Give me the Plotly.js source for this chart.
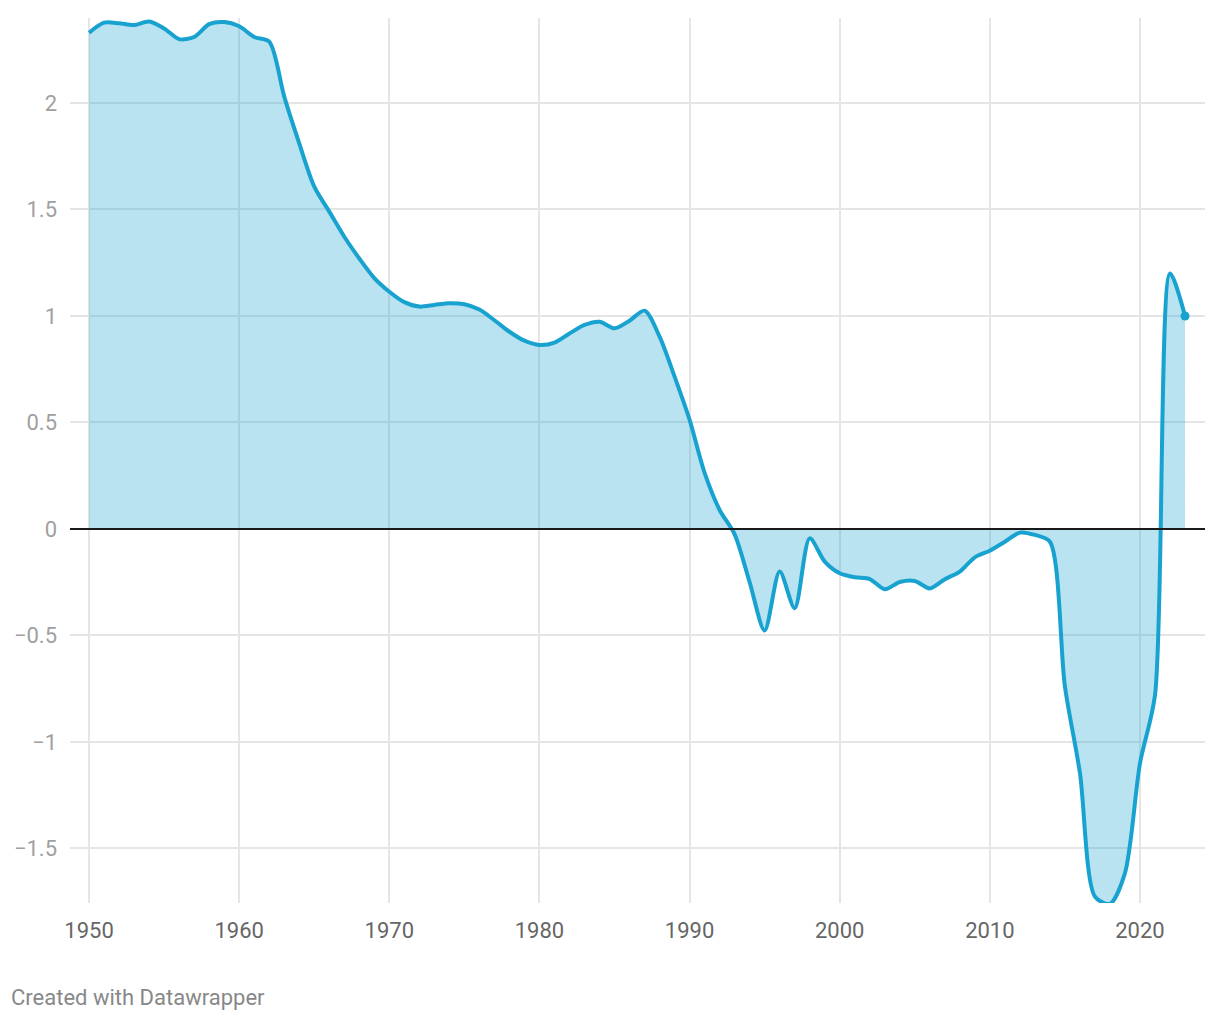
<!DOCTYPE html>
<html>
<head>
<meta charset="utf-8">
<script src="https://cdn.plot.ly/plotly-3.0.1.min.js"></script>
<style>
html,body{margin:0;padding:0;background:#fff;}
#chart{width:1220px;height:1020px;}
</style>
</head>
<body>
<div id="chart"></div>
<script>
const years = [1950,1951,1952,1953,1954,1955,1956,1957,1958,1959,
  1960,1961,1962,1963,1964,1965,1966,1967,1968,1969,
  1970,1971,1972,1973,1974,1975,1976,1977,1978,1979,
  1980,1981,1982,1983,1984,1985,1986,1987,1988,1989,
  1990,1991,1992,1993,1994,1995,1996,1997,1998,1999,
  2000,2001,2002,2003,2004,2005,2006,2007,2008,2009,
  2010,2011,2012,2013,2014,2015,2016,2017,2018,2019,
  2020,2021,2022,2023];
const values = [2.33,2.377,2.374,2.366,2.383,2.35,2.30,2.31,2.37,2.38,
  2.36,2.31,2.288,2.03,1.81,1.607,1.49,1.372,1.27,1.178,
  1.114,1.065,1.044,1.052,1.06,1.055,1.03,0.98,0.926,0.884,
  0.864,0.875,0.918,0.958,0.973,0.942,0.978,1.025,0.903,0.715,
  0.512,0.263,0.089,-0.025,-0.25,-0.477,-0.2,-0.372,-0.044,-0.153,
  -0.208,-0.227,-0.235,-0.283,-0.249,-0.244,-0.279,-0.236,-0.2,-0.133,
  -0.102,-0.06,-0.017,-0.028,-0.06,-0.74,-1.146,-1.726,-1.76,-1.615,
  -1.1,-0.78,1.2,1.0];
const xTicks = [1950,1960,1970,1980,1990,2000,2010,2020];
const yTicks = [-1.5,-1,-0.5,0,0.5,1,1.5,2];
const yTickLabels = ['\u22121.5','\u22121','\u22120.5','0','0.5','1','1.5','2'];

const lineColor = '#18a2cf';
const traces = [
  {
    x: years, y: values, type: 'scatter', mode: 'lines',
    line: {color: lineColor, width: 4, shape: 'spline', smoothing: 0.8},
    fill: 'tozeroy', fillcolor: 'rgba(27,163,207,0.3)',
    hoverinfo: 'x+y', showlegend: false
  },
  {
    x: [years[years.length-1]], y: [values[values.length-1]],
    type: 'scatter', mode: 'markers',
    marker: {color: lineColor, size: 9},
    showlegend: false, hoverinfo: 'skip'
  }
];
const layout = {
  width: 1220, height: 1020,
  margin: {l: 70, r: 15, t: 18, b: 117},
  paper_bgcolor: '#fff', plot_bgcolor: '#fff',
  font: {family: 'Roboto, sans-serif'},
  showlegend: false,
  xaxis: {
    range: [1948.73, 2024.33],
    tickvals: xTicks, ticktext: xTicks.map(String),
    showgrid: true, gridcolor: '#e5e5e5', gridwidth: 2,
    zeroline: false, showline: false, ticks: '',
    ticklabelstandoff: 12,
    tickfont: {family: 'Roboto, sans-serif', size: 22, color: '#666666'}
  },
  yaxis: {
    range: [-1.756, 2.399],
    tickvals: yTicks, ticktext: yTickLabels,
    showgrid: true, gridcolor: '#e5e5e5', gridwidth: 2,
    zeroline: false, showline: false, ticks: '',
    ticklabelstandoff: 12,
    tickfont: {family: 'Roboto, sans-serif', size: 22, color: '#a0a0a0'}
  },
  shapes: [{
    type: 'line', xref: 'paper', yref: 'y', x0: 0, x1: 1, y0: 0, y1: 0,
    line: {color: '#1a1a1a', width: 2}, layer: 'above'
  }],
  annotations: [{
    text: 'Created with Datawrapper', xref: 'paper', yref: 'paper',
    x: 0, y: 0, xanchor: 'left', yanchor: 'middle',
    xshift: -61, yshift: -94, showarrow: false,
    font: {family: 'Roboto, sans-serif', size: 22, color: '#888888'}
  }]
};
Plotly.newPlot('chart', traces, layout, {displayModeBar: false, responsive: false});
</script>
</body>
</html>
